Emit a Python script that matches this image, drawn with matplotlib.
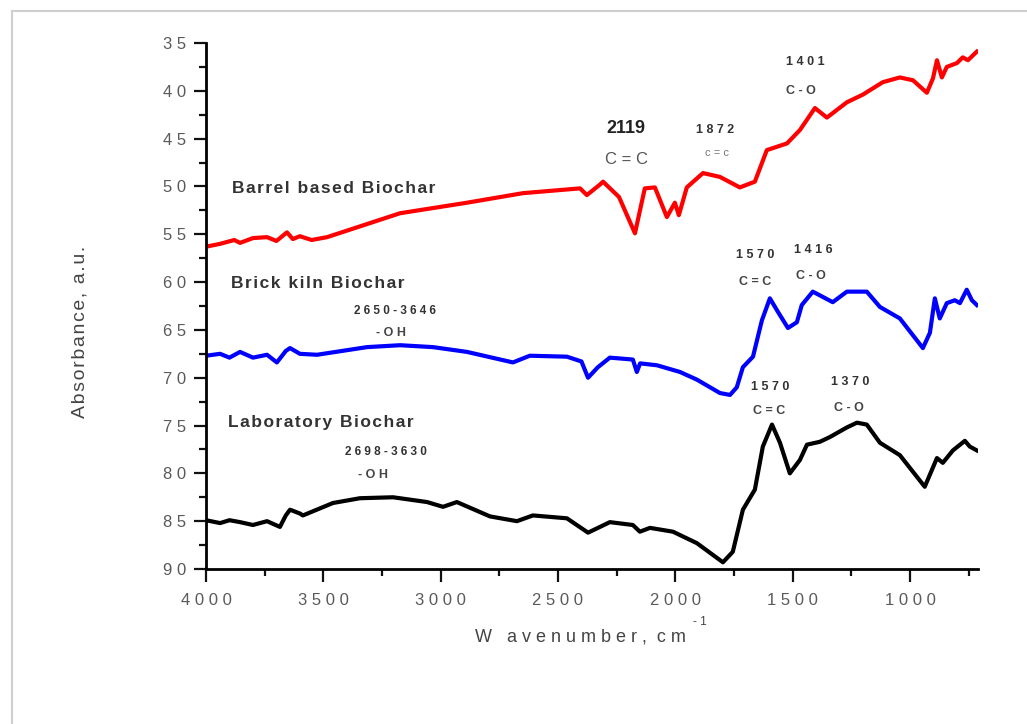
import matplotlib.pyplot as plt
from matplotlib.lines import Line2D
from matplotlib.ticker import MultipleLocator, FuncFormatter

plt.rcParams['font.family'] = ['Liberation Sans', 'DejaVu Sans']

# FTIR spectra, wavenumber (cm-1) vs absorbance
barrel_x = [4000, 3940, 3880, 3855, 3800, 3740, 3700, 3655, 3630, 3600, 3550, 3484,
            3173, 2888, 2649, 2406, 2377, 2321,
            2308, 2240, 2172, 2130, 2087, 2036, 2002, 1985, 1951, 1882, 1810, 1725,
            1661, 1610, 1524, 1469, 1405, 1354, 1269, 1201, 1116, 1043, 987, 928,
            902, 885, 864, 843, 800, 775, 753, 715]
barrel_y = [56.3, 56.0, 55.6, 55.9, 55.4, 55.3, 55.7, 54.8, 55.5, 55.2, 55.6, 55.3,
            52.8, 51.7, 50.7, 50.2, 50.9, 49.8,
            49.5, 51.1, 54.9, 50.2, 50.1, 53.2, 51.7, 53.0, 50.1, 48.6, 49.0, 50.1,
            49.5, 46.2, 45.5, 44.1, 41.8, 42.8, 41.2, 40.4, 39.1, 38.6, 38.9, 40.2,
            38.7, 36.8, 38.6, 37.5, 37.1, 36.5, 36.8, 35.9]

brick_x = [4000, 3940, 3900, 3855, 3800, 3740, 3698, 3660, 3642, 3600, 3527, 3314,
           3173, 3033, 2888, 2692, 2620, 2462,
           2400, 2372, 2330, 2279, 2181, 2164, 2150, 2078, 1980, 1908, 1810, 1767,
           1738, 1712, 1669, 1631, 1597, 1563, 1520, 1482, 1461, 1414, 1329, 1269,
           1184, 1128, 1043, 945, 915, 894, 873, 843, 809, 787, 758, 736, 715]
brick_y = [67.7, 67.5, 67.9, 67.3, 67.9, 67.6, 68.4, 67.2, 66.9, 67.5, 67.6, 66.8,
           66.6, 66.8, 67.3, 68.4, 67.7, 67.8,
           68.3, 70.0, 68.9, 67.9, 68.1, 69.4, 68.5, 68.7, 69.4, 70.2, 71.6, 71.8,
           71.0, 68.9, 67.8, 64.0, 61.7, 63.1, 64.8, 64.2, 62.4, 61.0, 62.1, 61.0,
           61.0, 62.6, 63.8, 66.9, 65.3, 61.7, 63.8, 62.2, 61.9, 62.2, 60.8, 61.9, 62.4]

lab_x = [4000, 3940, 3900, 3855, 3800, 3740, 3685, 3660, 3642, 3600, 3587, 3459,
         3344, 3203, 3058, 2990, 2931, 2790,
         2675, 2607, 2462, 2372, 2321, 2279, 2181, 2151, 2108, 2010, 1908, 1797,
         1755, 1712, 1661, 1627, 1588, 1554, 1512, 1469, 1439, 1384, 1341, 1269,
         1226, 1184, 1128, 1043, 937, 885, 860, 817, 766, 745, 715]
lab_y = [84.9, 85.2, 84.9, 85.1, 85.4, 85.0, 85.6, 84.4, 83.8, 84.2, 84.4, 83.1,
         82.6, 82.5, 83.0, 83.5, 83.0, 84.5,
         85.0, 84.4, 84.7, 86.2, 85.6, 85.1, 85.4, 86.1, 85.7, 86.1, 87.3, 89.3,
         88.2, 83.8, 81.7, 77.2, 74.9, 76.8, 80.0, 78.6, 77.0, 76.7, 76.2, 75.2,
         74.7, 74.9, 76.8, 78.1, 81.4, 78.4, 78.9, 77.6, 76.6, 77.2, 77.6]

series_names = ['Barrel based Biochar', 'Brick kiln Biochar', 'Laboratory Biochar']
series_colors = ['#ff0000', '#0000ff', '#000000']

HS = '\u200a'  # hair space for the loose letter spacing


def spread(s):
    return HS.join(s)


fig = plt.figure(figsize=(10.27, 7.24), dpi=100)
ax = fig.add_axes([0.2006, 0.2141, 0.7517, 0.7265])

for xs, ys, c in [(barrel_x, barrel_y, series_colors[0]),
                  (brick_x, brick_y, series_colors[1]),
                  (lab_x, lab_y, series_colors[2])]:
    ax.plot(xs, ys, color=c, lw=3.0, solid_joinstyle='round')

ax.set_xlim(4000, 710)
ax.set_ylim(90, 35)

for s in ['top', 'right']:
    ax.spines[s].set_visible(False)
for s in ['left', 'bottom']:
    ax.spines[s].set_linewidth(2)

ax.xaxis.set_major_locator(MultipleLocator(500))
ax.xaxis.set_minor_locator(MultipleLocator(250))
ax.yaxis.set_major_locator(MultipleLocator(5))
ax.yaxis.set_minor_locator(MultipleLocator(2.5))

spaced = FuncFormatter(lambda v, p: ' '.join(str(int(round(v)))))
ax.xaxis.set_major_formatter(spaced)
ax.yaxis.set_major_formatter(spaced)
ax.tick_params(which='major', length=9, width=1.6, colors='#111111',
               labelcolor='#5a5a5a', labelsize=12)
ax.tick_params(which='minor', length=5, width=1.6, colors='#111111')
ax.tick_params(axis='x', pad=8)
ax.tick_params(axis='y', pad=5)

# sample names
lbl = dict(fontsize=12.5, fontweight='bold', color='#333333', ha='left', va='center')
ax.text(3890, 50.2, spread(series_names[0]), **lbl)
ax.text(3895, 60.1, spread(series_names[1]), **lbl)
ax.text(3905, 74.7, spread(series_names[2]), **lbl)

# band assignments
num = dict(fontsize=9, fontweight='bold', color='#333333', ha='center', va='center')
grp = dict(fontsize=9, fontweight='bold', color='#444444', ha='center', va='center')
ax.text(2210, 43.9, '2119', fontsize=13, fontweight='bold', color='#222222',
        ha='center', va='center')
ax.text(2210, 47.2, 'C = C', fontsize=12, color='#555555', ha='center', va='center')
ax.text(1831, 44.1, '1 8 7 2', **num)
ax.text(1822, 46.5, 'c = c', fontsize=8, color='#777777', ha='center', va='center')
ax.text(1448, 37.0, '1 4 0 1', **num)
ax.text(1465, 40.0, 'C - O', **grp)

ax.text(1661, 57.2, '1 5 7 0', **num)
ax.text(1661, 60.0, 'C = C', **grp)
ax.text(1414, 56.6, '1 4 1 6', **num)
ax.text(1420, 59.4, 'C - O', **grp)
ax.text(3195, 63.0, '2 6 5 0 - 3 6 4 6', fontsize=8.5, fontweight='bold',
        color='#333333', ha='center', va='center')
ax.text(3210, 65.3, '- O H', **grp)

ax.text(1597, 71.0, '1 5 7 0', **num)
ax.text(1600, 73.5, 'C = C', **grp)
ax.text(1256, 70.4, '1 3 7 0', **num)
ax.text(1262, 73.2, 'C - O', **grp)
ax.text(3233, 77.8, '2 6 9 8 - 3 6 3 0', fontsize=8.5, fontweight='bold',
        color='#333333', ha='center', va='center')
ax.text(3290, 80.2, '- O H', **grp)

# axis titles
fig.text(80 / 1027, 1 - 332 / 724, spread('Absorbance, a.u.'), rotation=90,
         fontsize=14, color='#444444', ha='center', va='center')
fig.text(580 / 1027, 1 - 637 / 724, 'W   a v e n u m b e r ,  c m', fontsize=13,
         color='#444444', ha='center', va='center')
fig.text(700 / 1027, 1 - 622 / 724, '- 1', fontsize=8.5, color='#444444',
         ha='center', va='center')

# light frame round the figure
frame = dict(color='#cfcfcf', lw=1.5, transform=fig.transFigure)
fig.add_artist(Line2D([12 / 1027, 12 / 1027], [0, 1 - 11 / 724], **frame))
fig.add_artist(Line2D([12 / 1027, 1], [1 - 11 / 724, 1 - 11 / 724], **frame))

fig.savefig('out.png', dpi=100)
